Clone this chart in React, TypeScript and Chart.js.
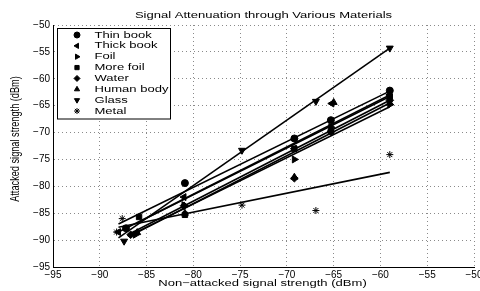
import React, { useEffect, useRef } from 'react';
import { Chart, registerables } from 'chart.js';
import { drawPoint } from 'chart.js/helpers';

Chart.register(...registerables);

const chartTitle = 'Signal Attenuation through Various Materials';
const xAxisTitle = 'Non\u2212attacked signal strength (dBm)';
const yAxisTitle = 'Attacked signal strength (dBm)';

const seriesNames = ['Thin book', 'Thick book', 'Foil', 'More foil', 'Water', 'Human body', 'Glass', 'Metal'];

const axisMin = -95;
const axisMax = -50;
const tickStep = 5;

const thinBookX = [-87.2, -80.9, -69.2, -65.3, -59.0];
const thinBookY = [-87.8, -79.4, -71.1, -67.7, -62.2];
const thickBookX = [-88.0, -81.0, -69.2, -65.2, -59.0];
const thickBookY = [-88.5, -82.0, -73.0, -64.6, -63.0];
const foilX = [-86.2, -81.0, -69.2, -65.3, -59.0];
const foilY = [-89.0, -83.5, -75.0, -69.0, -64.8];
const moreFoilX = [-85.8, -80.9, -69.2, -65.3, -59.0];
const moreFoilY = [-85.7, -85.3, -73.0, -69.8, -63.3];
const waterX = [-86.7, -81.0, -69.2, -65.3, -59.0];
const waterY = [-89.0, -83.6, -78.5, -69.8, -64.0];
const humanBodyX = [-86.0, -80.9, -69.2, -65.0, -59.0];
const humanBodyY = [-88.6, -85.0, -78.3, -64.4, -64.5];
const glassX = [-87.4, -74.8, -66.9, -59.0];
const glassY = [-90.2, -73.3, -64.2, -54.3];
const metalX = [-87.6, -88.2, -74.8, -66.9, -59.0];
const metalY = [-86.0, -88.5, -83.5, -84.5, -74.1];

// fitted trend line end points, one per series (same order as seriesNames)
const fitStartX = [-88.0, -88.0, -87.0, -86.0, -87.0, -86.5, -88.0, -88.0];
const fitStartY = [-87.0, -88.5, -89.3, -86.8, -89.0, -89.0, -89.6, -87.6];
const fitEndX = [-59.0, -59.0, -59.0, -59.0, -59.0, -59.0, -59.0, -59.0];
const fitEndY = [-62.3, -63.0, -65.2, -63.3, -64.0, -64.5, -54.3, -77.4];

const seriesX = [thinBookX, thickBookX, foilX, moreFoilX, waterX, humanBodyX, glassX, metalX];
const seriesY = [thinBookY, thickBookY, foilY, moreFoilY, waterY, humanBodyY, glassY, metalY];

const markerStyles = ['circle', 'triangle', 'triangle', 'rect', 'rectRot', 'triangle', 'triangle', 'star'];
const markerRotations = [0, -90, 90, 0, 0, 0, 180, 0];
const markerRadii = [3.5, 4, 4, 3.8, 3.8, 4, 4, 3.5];

const STRETCH = 1.42;
const TEXT_FONT = '9.2px "Liberation Sans", Arial, Helvetica, sans-serif';

function stretchedText(ctx: CanvasRenderingContext2D, text: string, x: number, y: number, align: CanvasTextAlign, rotate = 0) {
  ctx.save();
  ctx.translate(x, y);
  ctx.scale(STRETCH, 1);
  if (rotate) ctx.rotate(rotate);
  ctx.font = TEXT_FONT;
  ctx.fillStyle = '#000';
  ctx.textAlign = align;
  ctx.textBaseline = 'middle';
  ctx.fillText(text, 0, 0);
  ctx.restore();
}

const matlabDecor = {
  id: 'matlabDecor',
  afterDraw(chart: any) {
    const ctx: CanvasRenderingContext2D = chart.ctx;
    const area = chart.chartArea;
    // title and axis titles
    stretchedText(ctx, chartTitle, (area.left + area.right) / 2, 15, 'center');
    stretchedText(ctx, xAxisTitle, (area.left + area.right) / 2 - 1, 283.5, 'center');
    ctx.save();
    ctx.translate(15, (area.top + area.bottom) / 2 - 7);
    ctx.scale(1, 1);
    ctx.rotate(-Math.PI / 2);
    ctx.font = TEXT_FONT;
    ctx.fillStyle = '#000';
    ctx.textAlign = 'center';
    ctx.textBaseline = 'middle';
    ctx.save();
    ctx.scale(1, STRETCH);
    ctx.fillText(yAxisTitle, 0, 0);
    ctx.restore();
    ctx.restore();

    // legend box
    const bx = area.left + 4;
    const by = area.top + 3;
    const bw = 113;
    const bh = 90.5;
    ctx.save();
    ctx.fillStyle = '#fff';
    ctx.fillRect(bx, by, bw, bh);
    ctx.strokeStyle = '#000';
    ctx.lineWidth = 1;
    ctx.strokeRect(bx + 0.5, by + 0.5, bw, bh);
    ctx.restore();
    seriesNames.forEach((name, i) => {
      const cy = by + 7 + i * 10.86;
      ctx.save();
      ctx.fillStyle = '#000';
      ctx.strokeStyle = '#000';
      ctx.lineWidth = 1;
      drawPoint(ctx, { pointStyle: markerStyles[i], rotation: markerRotations[i], radius: 3, borderWidth: 1 } as any, bx + 20, cy);
      ctx.restore();
      stretchedText(ctx, name, bx + 37.5, cy, 'left');
    });
  },
};

export default function App() {
  const canvasRef = useRef<HTMLCanvasElement | null>(null);

  useEffect(() => {
    if (!canvasRef.current) return;
    const datasets: any[] = [];
    seriesNames.forEach((name, i) => {
      datasets.push({
        label: name + ' fit',
        data: [
          { x: fitStartX[i], y: fitStartY[i] },
          { x: fitEndX[i], y: fitEndY[i] },
        ],
        showLine: true,
        borderColor: '#000',
        borderWidth: 1.6,
        pointRadius: 0,
        fill: false,
      });
    });
    seriesNames.forEach((name, i) => {
      datasets.push({
        label: name,
        data: seriesX[i].map((x, j) => ({ x, y: seriesY[i][j] })),
        showLine: false,
        pointStyle: markerStyles[i],
        rotation: markerRotations[i],
        pointRadius: markerRadii[i],
        backgroundColor: '#000',
        borderColor: '#000',
        borderWidth: 1,
      });
    });

    const tickLabel = (v: any) => String(v).replace('-', '\u2212');

    const chart = new Chart(canvasRef.current, {
      type: 'scatter',
      data: { datasets },
      options: {
        animation: false,
        responsive: false,
        devicePixelRatio: 1,
        layout: { padding: { left: 0, right: 6, top: 25, bottom: 0 } },
        plugins: {
          legend: { display: false },
          tooltip: { enabled: false },
          title: { display: false },
        },
        scales: {
          x: {
            type: 'linear',
            min: axisMin,
            max: axisMax,
            ticks: {
              stepSize: tickStep,
              callback: tickLabel,
              color: '#000',
              font: { family: '"Liberation Sans", Arial, sans-serif', size: 10 },
              padding: 2,
              maxRotation: 0,
              autoSkip: false,
            },
            grid: { color: '#8a8a8a', drawTicks: false, lineWidth: 1 },
            border: { display: true, color: '#000', width: 1, dash: [1, 3] },
            afterFit(s: any) {
              s.height = 24;
              s.paddingLeft = 0;
              s.paddingRight = 0;
            },
          },
          y: {
            type: 'linear',
            min: axisMin,
            max: axisMax,
            ticks: {
              stepSize: tickStep,
              callback: tickLabel,
              color: '#000',
              font: { family: '"Liberation Sans", Arial, sans-serif', size: 10 },
              padding: 3,
              autoSkip: false,
            },
            grid: { color: '#8a8a8a', drawTicks: false, lineWidth: 1 },
            border: { display: true, color: '#000', width: 1, dash: [1, 3] },
            afterFit(s: any) {
              s.width = 53;
              s.paddingTop = 0;
              s.paddingBottom = 0;
            },
          },
        },
      } as any,
      plugins: [matlabDecor],
    });
    return () => chart.destroy();
  }, []);

  return (
    <div style={{ position: 'absolute', left: 0, top: 0, width: 480, height: 291, background: '#fff' }}>
      <canvas ref={canvasRef} width={480} height={291} style={{ display: 'block', width: 480, height: 291 }} />
    </div>
  );
}
